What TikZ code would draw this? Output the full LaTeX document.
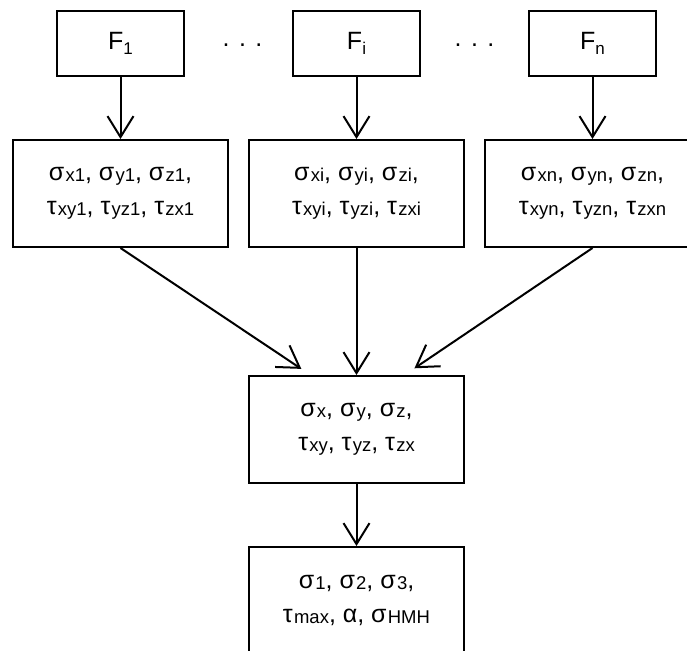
\documentclass[tikz,border=0pt]{standalone}
\usepackage{fontspec}
\setmainfont{Liberation Sans}
\usepackage{tikz}
\usetikzlibrary{arrows.meta}
\usetikzlibrary{positioning}
\tikzstyle{forcebox}=[rectangle,draw,line width=2pt,minimum width=127pt,minimum height=65pt,inner sep=0pt,font=\fontsize{25}{28}\selectfont]
\tikzstyle{stressbox}=[rectangle,draw,line width=2pt,minimum width=215pt,minimum height=107pt,inner sep=0pt,align=center,font=\fontsize{25}{34}\selectfont]
\tikzstyle{dots}=[anchor=base,inner sep=0pt,font=\fontsize{25}{28}\selectfont]
\tikzstyle{edge} = [draw,line width=2pt,-{Straight Barb[length=21pt,width=26pt]}]
\newcommand{\ix}[1]{\kern1.2pt\raisebox{-0.1ex}{\fontsize{18.5}{18.5}\selectfont #1}}
\newcommand{\fx}[1]{\raisebox{-0.35ex}{\fontsize{17}{17}\selectfont #1}}

\begin{document}
\begin{tikzpicture}[x=1pt, y=-1pt]
    \path[use as bounding box, clip] (0,0) rectangle (687,650);

    \def\dy{43.5};
    \def\sy{193.5};
%    force boxes and the stresses they give
    \foreach \x/\idx in {120.5/1, 356.5/i, 592.5/n} {
        \node[forcebox] (F\idx) at (\x, \dy) {F\fx{\idx}};
        \node[stressbox] (S\idx) at (\x, \sy) {σ\ix{x\idx}, σ\ix{y\idx}, σ\ix{z\idx},\\τ\ix{xy\idx}, τ\ix{yz\idx}, τ\ix{zx\idx}};
        \path[edge] (F\idx) -- (S\idx);
    }

    \node[dots] (dotsA) at (242.5, 47) {.\hspace{9.5pt}.\hspace{9.5pt}.};
    \node[dots] (dotsB) at (474.5, 47) {.\hspace{9.5pt}.\hspace{9.5pt}.};

%    summed stresses
    \node[stressbox] (Sxyz) at (356.5, 429.5) {σ\ix{x}, σ\ix{y}, σ\ix{z},\\τ\ix{xy}, τ\ix{yz}, τ\ix{zx}};
    \node[stressbox] (Sp) at (356.5, 600.5) {σ\ix{1}, σ\ix{2}, σ\ix{3},\\τ\ix{max}, α, σ\ix{HMH}};

    \path[edge, shorten >=11pt] (S1.south) -- ([xshift=-46pt]Sxyz.north);
    \path[edge] (Si) -- (Sxyz);
    \path[edge, shorten >=12pt] (Sn.south) -- ([xshift=48pt]Sxyz.north);
    \path[edge] (Sxyz) -- (Sp);

\end{tikzpicture}
\end{document}
